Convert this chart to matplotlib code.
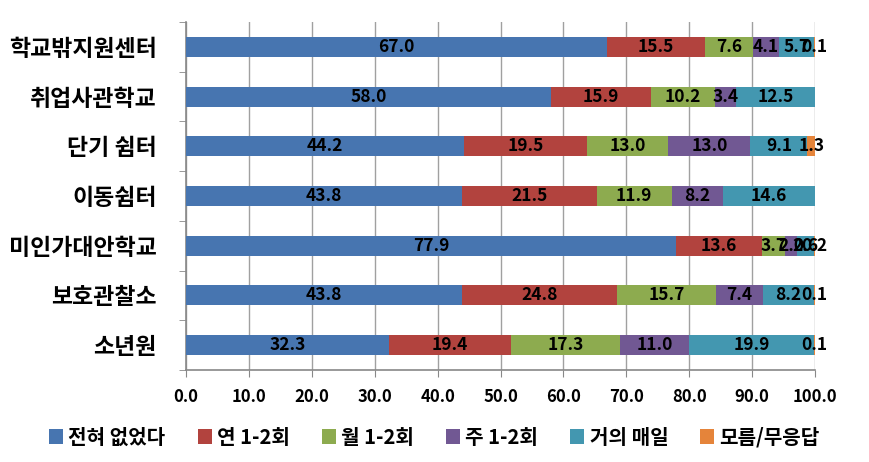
import matplotlib
matplotlib.use("Agg")
import matplotlib.pyplot as plt
import numpy as np

plt.rcParams['font.family'] = ['Noto Sans CJK KR', 'DejaVu Sans']

categories = ["학교밖지원센터", "취업사관학교", "단기 쉼터", "이동쉼터", "미인가대안학교", "보호관찰소", "소년원"]
series_names = ["전혀 없었다", "연 1-2회", "월 1-2회", "주 1-2회", "거의 매일", "모름/무응답"]
never = [67.0, 58.0, 44.2, 43.8, 77.9, 43.8, 32.3]
yearly = [15.5, 15.9, 19.5, 21.5, 13.6, 24.8, 19.4]
monthly = [7.6, 10.2, 13.0, 11.9, 3.7, 15.7, 17.3]
weekly = [4.1, 3.4, 13.0, 8.2, 2.0, 7.4, 11.0]
daily = [5.7, 12.5, 9.1, 14.6, 2.6, 8.2, 19.9]
unknown = [0.1, 0.0, 1.3, 0.0, 0.2, 0.1, 0.1]
xticks = [0, 10, 20, 30, 40, 50, 60, 70, 80, 90, 100]

series = [never, yearly, monthly, weekly, daily, unknown]
colors = ["#4775B0", "#B2433E", "#8DAB4F", "#715893", "#4397B0", "#E5843A"]

fig = plt.figure(figsize=(8.69, 4.62), dpi=100)
ax = fig.add_axes([186/869, 1-370/462, (815-186)/869, (370-22)/462])

y = np.arange(len(categories))
left = np.zeros(len(categories))
for name, vals, c in zip(series_names, series, colors):
    vals = np.array(vals)
    ax.barh(y, vals, left=left, height=0.4, color=c, label=name, zorder=3)
    for yi, (l, v) in enumerate(zip(left, vals)):
        if v > 0:
            ax.text(l + v/2, yi, f"{v:.1f}", ha='center', va='center',
                    fontsize=12.5, fontweight='bold', color='black', zorder=5)
    left = left + vals

ax.set_xlim(0, 100)
ax.set_ylim(len(categories) - 0.5, -0.5)
ax.set_yticks(y)
ax.set_yticklabels(categories, fontsize=16.5, fontweight='bold')
ax.set_yticks(np.arange(-0.5, len(categories), 1), minor=True)
ax.tick_params(axis='y', which='major', length=0, pad=21)
ax.tick_params(axis='y', which='minor', length=5, color='#888888', direction='out')
ax.set_xticks(xticks)
ax.set_xticklabels([f"{t:.1f}" for t in xticks], fontsize=12, fontweight='bold')
ax.tick_params(axis='x', length=5, color='#888888', pad=8)
ax.grid(axis='x', color='#A0A0A0', linewidth=1, zorder=0)
for s in ['top', 'right']:
    ax.spines[s].set_visible(False)
for s in ['left', 'bottom']:
    ax.spines[s].set_color('#888888')
    ax.spines[s].set_linewidth(1.2)

handles, labels = ax.get_legend_handles_labels()
leg = fig.legend(handles, labels, loc='center', bbox_to_anchor=(0.5, 1-437/462), ncol=6,
                 frameon=False, handlelength=0.7, handleheight=0.7, handletextpad=0.25,
                 columnspacing=1.6, prop={'size': 14.5, 'weight': 'bold'})

fig.savefig("out.png", dpi=100)
